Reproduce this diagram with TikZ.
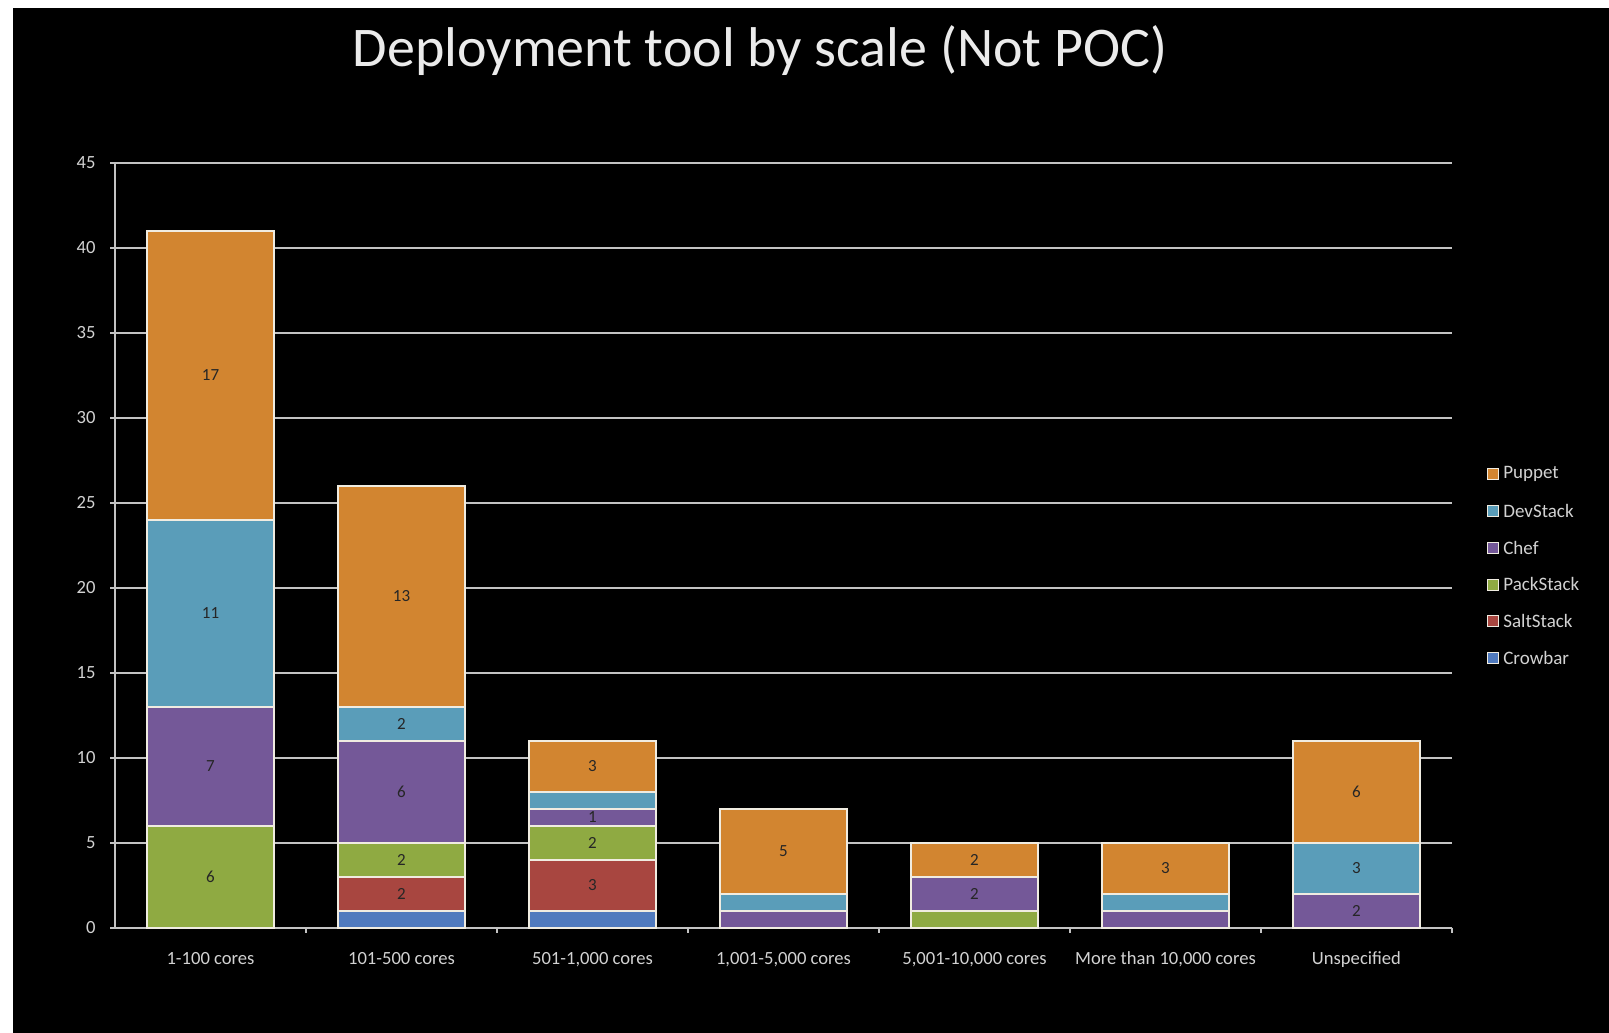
\documentclass[tikz,border=0pt]{standalone}
\usepackage{fontspec}
\setmainfont{Carlito}
\usetikzlibrary{positioning}

\definecolor{puppet}{RGB}{210,133,48}
\definecolor{devstack}{RGB}{90,157,185}
\definecolor{chef}{RGB}{116,88,152}
\definecolor{packstack}{RGB}{143,170,66}
\definecolor{saltstack}{RGB}{168,70,64}
\definecolor{crowbar}{RGB}{80,122,190}
\definecolor{chartgrid}{RGB}{195,195,195}
\definecolor{chartink}{RGB}{210,210,210}
\definecolor{chartedge}{RGB}{240,236,225}

\tikzset{
  gridline/.style={draw=chartgrid,line width=1pt},
  barlabel/.style={font=\fontsize{8.5}{10}\selectfont,text=black!85,inner sep=0pt},
  ticklabel/.style={font=\fontsize{9.3}{11}\selectfont,text=chartink,inner sep=0pt},
  keybox/.style={draw=chartedge,line width=0.4pt,minimum size=5.5pt,inner sep=0pt},
  keytext/.style={font=\fontsize{9.5}{11}\selectfont,text=chartink,inner sep=0pt}
}

\begin{document}
\begin{tikzpicture}[x=95.5pt,y=8.5pt]
\newcommand{\stackpart}[4]{\draw[fill=#1,draw=chartedge,line width=1pt] (#2-0.335,#3) rectangle (#2+0.335,#4);}

\useasboundingbox[fill=white] (-0.6021,-6.1941) rectangle (7.8220,54.5706);
\fill[black] (-0.5340,-6.1941) rectangle (7.8220,54.1);

\node[font=\fontsize{28}{32}\selectfont,text=white!92!black,anchor=base] (title) at (3.377,50.65) {Deployment tool by scale (Not POC)};

\draw[gridline] (-0.026,5) -- (7,5);
\draw[gridline] (-0.026,10) -- (7,10);
\draw[gridline] (-0.026,15) -- (7,15);
\draw[gridline] (-0.026,20) -- (7,20);
\draw[gridline] (-0.026,25) -- (7,25);
\draw[gridline] (-0.026,30) -- (7,30);
\draw[gridline] (-0.026,35) -- (7,35);
\draw[gridline] (-0.026,40) -- (7,40);
\draw[gridline] (-0.026,45) -- (7,45);

\draw[gridline] (0,0) -- (0,45);
\draw[gridline] (-0.026,0) -- (7,0);
\draw[gridline] (1,0) -- (1,-0.3);
\draw[gridline] (2,0) -- (2,-0.3);
\draw[gridline] (3,0) -- (3,-0.3);
\draw[gridline] (4,0) -- (4,-0.3);
\draw[gridline] (5,0) -- (5,-0.3);
\draw[gridline] (6,0) -- (6,-0.3);
\draw[gridline] (7,0) -- (7,-0.3);

\node[ticklabel,anchor=east] (y0) at (-0.1,0) {0};
\node[ticklabel,anchor=east] (y5) at (-0.1,5) {5};
\node[ticklabel,anchor=east] (y10) at (-0.1,10) {10};
\node[ticklabel,anchor=east] (y15) at (-0.1,15) {15};
\node[ticklabel,anchor=east] (y20) at (-0.1,20) {20};
\node[ticklabel,anchor=east] (y25) at (-0.1,25) {25};
\node[ticklabel,anchor=east] (y30) at (-0.1,30) {30};
\node[ticklabel,anchor=east] (y35) at (-0.1,35) {35};
\node[ticklabel,anchor=east] (y40) at (-0.1,40) {40};
\node[ticklabel,anchor=east] (y45) at (-0.1,45) {45};

\stackpart{packstack}{0.5}{0}{6}
\stackpart{chef}{0.5}{6}{13}
\stackpart{devstack}{0.5}{13}{24}
\stackpart{puppet}{0.5}{24}{41}

\stackpart{crowbar}{1.5}{0}{1}
\stackpart{saltstack}{1.5}{1}{3}
\stackpart{packstack}{1.5}{3}{5}
\stackpart{chef}{1.5}{5}{11}
\stackpart{devstack}{1.5}{11}{13}
\stackpart{puppet}{1.5}{13}{26}

\stackpart{crowbar}{2.5}{0}{1}
\stackpart{saltstack}{2.5}{1}{4}
\stackpart{packstack}{2.5}{4}{6}
\stackpart{chef}{2.5}{6}{7}
\stackpart{devstack}{2.5}{7}{8}
\stackpart{puppet}{2.5}{8}{11}

\stackpart{chef}{3.5}{0}{1}
\stackpart{devstack}{3.5}{1}{2}
\stackpart{puppet}{3.5}{2}{7}

\stackpart{packstack}{4.5}{0}{1}
\stackpart{chef}{4.5}{1}{3}
\stackpart{puppet}{4.5}{3}{5}

\stackpart{chef}{5.5}{0}{1}
\stackpart{devstack}{5.5}{1}{2}
\stackpart{puppet}{5.5}{2}{5}

\stackpart{chef}{6.5}{0}{2}
\stackpart{devstack}{6.5}{2}{5}
\stackpart{puppet}{6.5}{5}{11}

\node[barlabel] (apack) at (0.5,3) {6};
\node[barlabel] (achef) at (0.5,9.5) {7};
\node[barlabel] (adev) at (0.5,18.5) {11};
\node[barlabel] (apup) at (0.5,32.5) {17};
\node[barlabel] (bsalt) at (1.5,2) {2};
\node[barlabel] (bpack) at (1.5,4) {2};
\node[barlabel] (bchef) at (1.5,8) {6};
\node[barlabel] (bdev) at (1.5,12) {2};
\node[barlabel] (bpup) at (1.5,19.5) {13};
\node[barlabel] (csalt) at (2.5,2.5) {3};
\node[barlabel] (cpack) at (2.5,5) {2};
\node[barlabel] (cchef) at (2.5,6.5) {1};
\node[barlabel] (cpup) at (2.5,9.5) {3};
\node[barlabel] (dpup) at (3.5,4.5) {5};
\node[barlabel] (echef) at (4.5,2) {2};
\node[barlabel] (epup) at (4.5,4) {2};
\node[barlabel] (fpup) at (5.5,3.5) {3};
\node[barlabel] (gchef) at (6.5,1) {2};
\node[barlabel] (gdev) at (6.5,3.5) {3};
\node[barlabel] (gpup) at (6.5,8) {6};

\node[ticklabel,anchor=base] (xa) at (0.5,-2.19) {1-100 cores};
\node[ticklabel,anchor=base] (xb) at (1.5,-2.19) {101-500 cores};
\node[ticklabel,anchor=base] (xc) at (2.5,-2.19) {501-1,000 cores};
\node[ticklabel,anchor=base] (xd) at (3.5,-2.19) {1,001-5,000 cores};
\node[ticklabel,anchor=base] (xe) at (4.5,-2.19) {5,001-10,000 cores};
\node[ticklabel,anchor=base] (xf) at (5.5,-2.19) {More than 10,000 cores};
\node[ticklabel,anchor=base] (xg) at (6.5,-2.19) {Unspecified};

\node[keybox,fill=puppet] (keypuppet) at (7.215,26.69) {};
\node[keybox,fill=devstack] (keydevstack) at (7.215,24.52) {};
\node[keybox,fill=chef] (keychef) at (7.215,22.36) {};
\node[keybox,fill=packstack] (keypackstack) at (7.215,20.19) {};
\node[keybox,fill=saltstack] (keysaltstack) at (7.215,18.03) {};
\node[keybox,fill=crowbar] (keycrowbar) at (7.215,15.87) {};
\node[keytext,right=2pt of keypuppet] (txtpuppet) {Puppet};
\node[keytext,right=2pt of keydevstack] (txtdevstack) {DevStack};
\node[keytext,right=2pt of keychef] (txtchef) {Chef};
\node[keytext,right=2pt of keypackstack] (txtpackstack) {PackStack};
\node[keytext,right=2pt of keysaltstack] (txtsaltstack) {SaltStack};
\node[keytext,right=2pt of keycrowbar] (txtcrowbar) {Crowbar};
\end{tikzpicture}
\end{document}
